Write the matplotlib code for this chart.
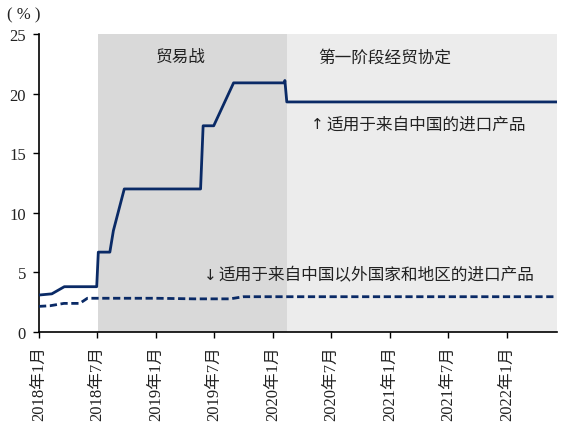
import matplotlib
matplotlib.use('Agg')
import matplotlib.pyplot as plt
import pandas as pd

plt.rcParams['font.family'] = ['Liberation Serif', 'Noto Sans CJK SC', 'DejaVu Sans']
plt.rcParams['axes.unicode_minus'] = False

# 适用于来自中国的进口产品 平均关税（%）
china_dates = ['2018-01-01', '2018-02-10', '2018-03-21', '2018-06-30', '2018-07-05',
               '2018-08-10', '2018-08-21', '2018-09-24', '2019-05-20', '2019-05-28',
               '2019-06-30', '2019-08-31', '2020-02-06', '2020-02-07', '2020-02-13',
               '2022-06-05']
china_vals = [3.1, 3.2, 3.8, 3.8, 6.7,
              6.7, 8.5, 12.0, 12.0, 17.3,
              17.3, 20.9, 20.9, 21.1, 19.3,
              19.3]

# 适用于来自中国以外国家和地区的进口产品
row_dates = ['2018-01-01', '2018-02-04', '2018-03-20', '2018-05-08', '2018-06-01',
             '2019-01-01', '2019-05-01', '2019-08-20', '2019-10-01', '2022-06-05']
row_vals = [2.15, 2.2, 2.4, 2.4, 2.83,
            2.83, 2.78, 2.78, 2.96, 2.96]

tick_dates = ['2018-01-01', '2018-07-01', '2019-01-01', '2019-07-01', '2020-01-01',
              '2020-07-01', '2021-01-01', '2021-07-01', '2022-01-01']
tick_labels = ['2018年1月', '2018年7月', '2019年1月', '2019年7月', '2020年1月',
               '2020年7月', '2021年1月', '2021年7月', '2022年1月']

# 阶段
war_start, war_end = '2018-07-03', '2020-02-13'
deal_end = '2022-06-05'

navy = '#0a2a66'
txt = '#222222'
cjk = ['Noto Sans CJK SC', 'DejaVu Sans']

fig = plt.figure(figsize=(5.67, 4.31), dpi=100)
ax = fig.add_axes([0.0688, 0.2274, 0.9136, 0.6914])

ax.axvspan(pd.Timestamp(war_start), pd.Timestamp(war_end), color='#d9d9d9', lw=0, zorder=0)
ax.axvspan(pd.Timestamp(war_end), pd.Timestamp(deal_end), color='#ececec', lw=0, zorder=0)

ax.plot(pd.to_datetime(china_dates), china_vals, color=navy, lw=2.0, zorder=3)
ax.plot(pd.to_datetime(row_dates), row_vals, color=navy, lw=2.0, dashes=(2.6, 1.3), zorder=3)

ax.set_xlim(pd.Timestamp('2018-01-01'), pd.Timestamp(deal_end))
ax.set_ylim(0, 25)
ax.set_yticks([0, 5, 10, 15, 20, 25])
ax.set_xticks(pd.to_datetime(tick_dates))
ax.set_xticklabels(tick_labels, rotation=90)
ax.tick_params(axis='both', direction='out', length=4.3, width=1, labelsize=12, colors='black')
ax.tick_params(axis='x', pad=5)
ax.tick_params(axis='y', pad=5)
for lab in ax.get_xticklabels() + ax.get_yticklabels():
    lab.set_color(txt)

for s in ['top', 'right']:
    ax.spines[s].set_visible(False)
for s in ['left', 'bottom']:
    ax.spines[s].set_linewidth(1.2)

ax.text(pd.Timestamp('2019-03-20'), 23.1, '贸易战', ha='center', va='center',
        fontsize=12, color=txt, family=cjk)
ax.text(pd.Timestamp('2020-12-16'), 23.05, '第一阶段经贸协定', ha='center', va='center',
        fontsize=12, color=txt, family=cjk)

ax.text(pd.Timestamp('2020-05-17'), 17.45, '↑', ha='center', va='center',
        fontsize=11, color=txt, family=['DejaVu Sans'])
ax.text(pd.Timestamp('2020-06-17'), 17.45, '适用于来自中国的进口产品', ha='left', va='center',
        fontsize=12, color=txt, family=cjk)
ax.text(pd.Timestamp('2019-06-18'), 4.8, '↓', ha='center', va='center',
        fontsize=11, color=txt, family=['DejaVu Sans'])
ax.text(pd.Timestamp('2019-07-16'), 4.8, '适用于来自中国以外国家和地区的进口产品', ha='left', va='center',
        fontsize=12, color=txt, family=cjk)

ax.text(-0.062, 1.065, '( % )', transform=ax.transAxes, ha='left', va='center',
        fontsize=12, color=txt, family=['Liberation Serif'])

fig.savefig('out.png', dpi=100)
